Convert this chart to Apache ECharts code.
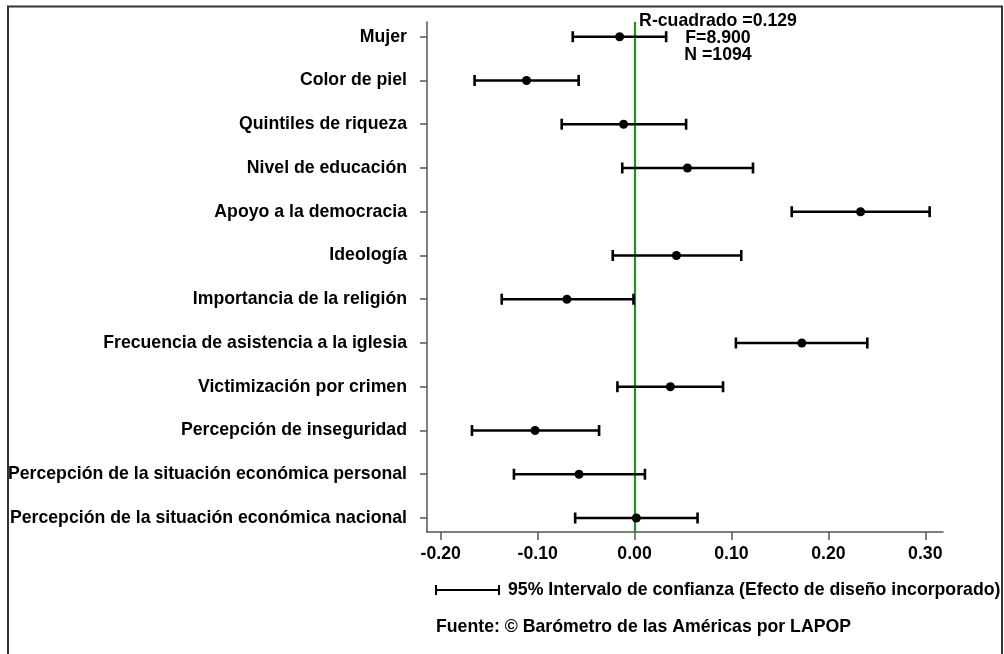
<!DOCTYPE html>
<html>
<head>
<meta charset="utf-8">
<script src="https://cdn.jsdelivr.net/npm/echarts@6/dist/echarts.min.js"></script>
<style>
html,body{margin:0;padding:0;background:#fff;}
#chart{width:1004px;height:654px;}
</style>
</head>
<body>
<div id="chart"></div>
<script>
const categories = [
  'Mujer',
  'Color de piel',
  'Quintiles de riqueza',
  'Nivel de educación',
  'Apoyo a la democracia',
  'Ideología',
  'Importancia de la religión',
  'Frecuencia de asistencia a la iglesia',
  'Victimización por crimen',
  'Percepción de inseguridad',
  'Percepción de la situación económica personal',
  'Percepción de la situación económica nacional'
];
const coef  = [-0.0154, -0.1115, -0.0113, 0.0546, 0.2332, 0.0432, -0.0698, 0.1726, 0.0370, -0.1027, -0.0573, 0.0018];
const lower = [-0.0638, -0.1651, -0.0752, -0.0127, 0.1622, -0.0225, -0.1371, 0.1046, -0.0177, -0.1678, -0.1245, -0.0613];
const upper = [0.0326, -0.0577, 0.0532, 0.1222, 0.3045, 0.1101, -0.0011, 0.2402, 0.0913, -0.0366, 0.0107, 0.0650];
const xTicks = [-0.2, -0.1, 0, 0.1, 0.2, 0.3];
const statsLines = ['R-cuadrado =0.129', 'F=8.900', 'N =1094'];
const legendText = '95% Intervalo de confianza (Efecto de diseño incorporado)';
const sourceText = 'Fuente: © Barómetro de las Américas por LAPOP';

const FONT = '"Liberation Sans", Arial, Helvetica, sans-serif';
const FS = 17.7;
const idx = categories.map((_, i) => i);

const chart = echarts.init(document.getElementById('chart'), null, {renderer: 'canvas'});

const option = {
  animation: false,
  backgroundColor: '#ffffff',
  grid: {left: 427, right: 61, top: 22, bottom: 122, containLabel: false, outerBoundsMode: 'none'},
  xAxis: {
    type: 'value',
    min: -0.2142, max: 0.3183,
    axisLine: {show: true, onZero: false, lineStyle: {color: '#555', width: 1.5}},
    axisTick: {show: true, customValues: xTicks, length: 8, lineStyle: {color: '#555', width: 1.5}},
    axisLabel: {
      customValues: xTicks, margin: 13,
      formatter: v => v.toFixed(2),
      color: '#000', fontWeight: 'bold', fontSize: FS, fontFamily: FONT
    },
    splitLine: {show: false}
  },
  yAxis: {
    type: 'value',
    inverse: true,
    min: -0.336, max: 11.32,
    axisLine: {show: true, onZero: false, lineStyle: {color: '#555', width: 1.5}},
    axisTick: {show: true, customValues: idx, length: 7, lineStyle: {color: '#555', width: 1.5}},
    axisLabel: {
      customValues: idx, margin: 20,
      formatter: v => categories[Math.round(v)] || '',
      color: '#000', fontWeight: 'bold', fontSize: FS, fontFamily: FONT
    },
    splitLine: {show: false}
  },
  series: [
    {
      type: 'custom',
      silent: true,
      clip: false,
      data: idx.map(i => [lower[i], upper[i], i]),
      encode: {x: [0, 1], y: 2},
      renderItem: function (params, api) {
        const a = api.coord([api.value(0), api.value(2)]);
        const b = api.coord([api.value(1), api.value(2)]);
        const h = 5.5;
        const st = {stroke: '#000', lineWidth: 2.6};
        return {
          type: 'group',
          children: [
            {type: 'line', shape: {x1: a[0], y1: a[1], x2: b[0], y2: b[1]}, style: st},
            {type: 'line', shape: {x1: a[0], y1: a[1] - h, x2: a[0], y2: a[1] + h}, style: st},
            {type: 'line', shape: {x1: b[0], y1: b[1] - h, x2: b[0], y2: b[1] + h}, style: st}
          ]
        };
      },
      z: 3
    },
    {
      type: 'scatter',
      symbol: 'circle',
      symbolSize: 9,
      itemStyle: {color: '#000', opacity: 1},
      data: idx.map(i => [coef[i], i]),
      z: 4,
      markLine: {
        silent: true,
        symbol: ['none', 'none'],
        label: {show: false},
        lineStyle: {color: '#1f951f', width: 2.2, type: 'solid'},
        data: [{xAxis: 0}],
        z: 2
      }
    }
  ],
  graphic: [
    {
      type: 'rect', silent: true, z: 0,
      shape: {x: 8, y: 6.5, width: 994, height: 700},
      style: {fill: 'none', stroke: '#333', lineWidth: 2}
    },
    ...statsLines.map((t, k) => ({
      type: 'text', silent: true, z: 10,
      x: 718, y: 21 + k * 17,
      style: {text: t, fill: '#000', font: 'bold ' + FS + 'px ' + FONT, textAlign: 'center', textVerticalAlign: 'middle'}
    })),
    {type: 'line', silent: true, shape: {x1: 436, y1: 590, x2: 499, y2: 590}, style: {stroke: '#000', lineWidth: 2}},
    {type: 'line', silent: true, shape: {x1: 436, y1: 585, x2: 436, y2: 595}, style: {stroke: '#000', lineWidth: 2}},
    {type: 'line', silent: true, shape: {x1: 499, y1: 585, x2: 499, y2: 595}, style: {stroke: '#000', lineWidth: 2}},
    {
      type: 'text', silent: true, x: 508, y: 590,
      style: {text: legendText, fill: '#000', font: 'bold ' + FS + 'px ' + FONT, textAlign: 'left', textVerticalAlign: 'middle'}
    },
    {
      type: 'text', silent: true, x: 436, y: 627,
      style: {text: sourceText, fill: '#000', font: 'bold ' + FS + 'px ' + FONT, textAlign: 'left', textVerticalAlign: 'middle'}
    }
  ]
};
chart.setOption(option);
</script>
</body>
</html>
